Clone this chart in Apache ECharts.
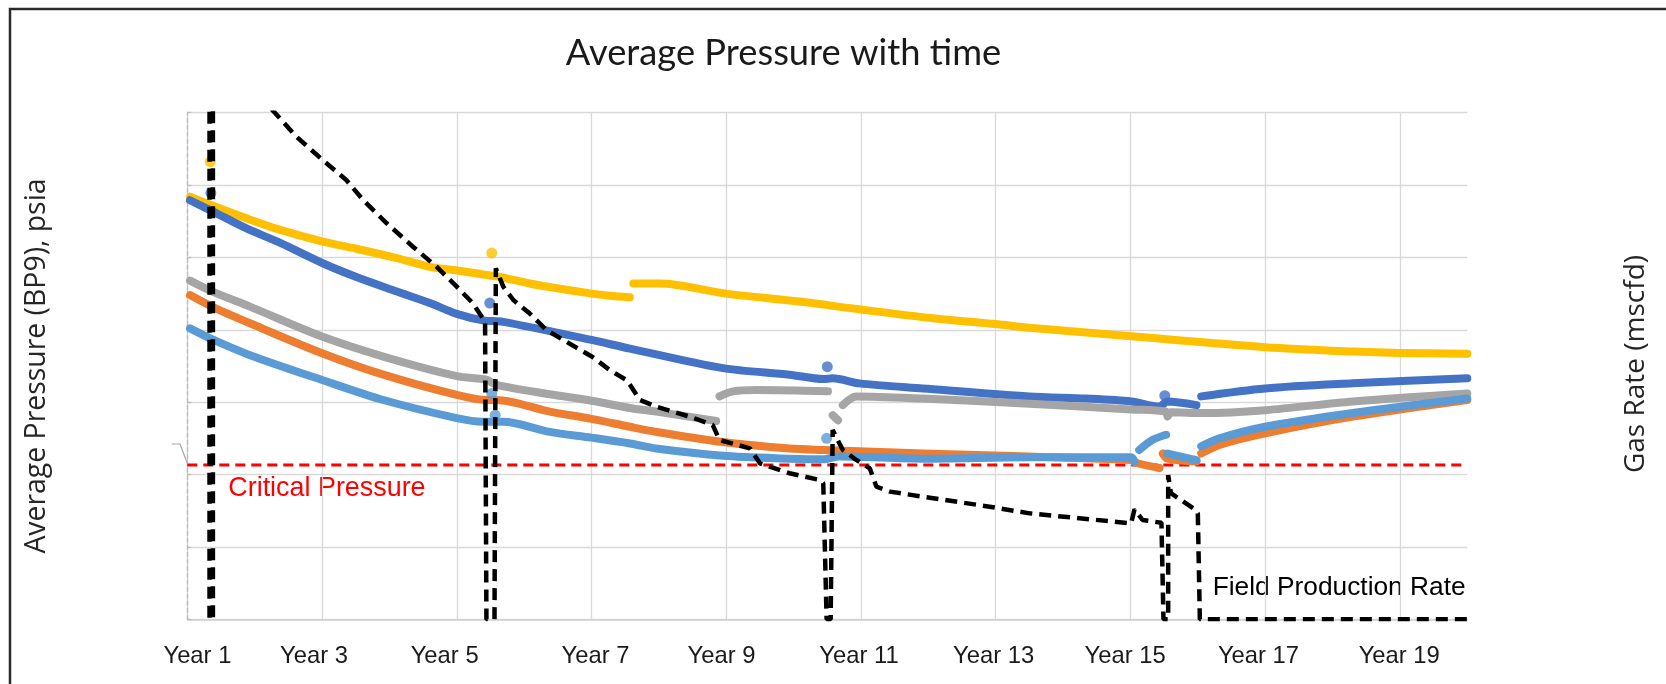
<!DOCTYPE html>
<html>
<head>
<meta charset="utf-8">
<script src="https://cdn.jsdelivr.net/npm/echarts@6/dist/echarts.min.js"></script>
<style>
html,body{margin:0;padding:0;background:#fff;}
#c{width:1666px;height:684px;}
</style>
</head>
<body>
<div id="c"></div>
<script>
// ---------------- DATA (t = years after the Year 1 gridline) ----------------
const yearLabels = ['Year 1','Year 3','Year 5','Year 7','Year 9','Year 11','Year 13','Year 15','Year 17','Year 19'];
const yearLabelPos = [0.15, 1.88, 3.82, 6.06, 7.93, 9.97, 11.97, 13.92, 15.90, 17.99];

const criticalPressure = 1066;

const yellowP = [[0.04,2920],[0.39,2855],[0.88,2770],[1.38,2690],[2.01,2610],[2.51,2560],[3.11,2495],[3.60,2435],[4.01,2410],[4.42,2380],[4.64,2365],[5.08,2320],[5.58,2280],[6.01,2250],[6.27,2235],[6.57,2225],[6.60,'-'],[6.62,2320],[7.01,2320],[8.00,2250],[9.09,2195],[10.00,2140],[11.07,2080],[12.00,2040],[12.50,2015],[14.01,1955],[16.00,1880],[17.30,1850],[18.00,1840],[19.00,1835]];
const blueP = [[0.04,2895],[0.39,2815],[0.88,2700],[1.38,2600],[2.01,2460],[2.51,2365],[3.11,2265],[3.60,2185],[4.00,2110],[4.39,2065],[4.69,2055],[6.00,1930],[6.57,1870],[7.95,1735],[8.94,1690],[9.44,1660],[9.58,1665],[9.98,1630],[10.92,1595],[12.50,1540],[13.34,1525],[14.01,1505],[14.43,1470],[14.55,1505],[14.98,1480],[15.01,'-'],[15.05,1540],[16.00,1595],[17.30,1630],[19.00,1665]];
const grayP = [[0.04,2340],[0.39,2260],[0.93,2160],[1.99,1955],[2.91,1815],[4.00,1680],[4.44,1655],[4.59,1620],[5.38,1555],[6.00,1510],[6.57,1460],[6.96,1435],[7.85,1370],[7.87,'-'],[7.90,1540],[8.10,1575],[8.45,1585],[9.51,1575],[9.54,'-'],[9.58,1410],[9.66,1375],[9.70,'-'],[9.73,1480],[9.93,1540],[10.92,1525],[12.50,1490],[14.01,1450],[14.53,1435],[14.55,1400],[14.60,1430],[15.07,1425],[16.00,1445],[17.30,1505],[19.00,1560]];
const orangeP = [[0.04,2240],[0.39,2155],[0.93,2045],[1.99,1840],[2.91,1690],[4.00,1550],[4.44,1515],[4.59,1515],[5.38,1435],[6.00,1385],[6.57,1330],[6.96,1295],[7.95,1225],[8.94,1180],[9.44,1170],[10.92,1145],[12.50,1125],[14.01,1100],[14.09,1080],[14.43,1045],[14.46,'-'],[14.48,1145],[14.55,1110],[14.98,1090],[15.01,'-'],[15.05,1145],[15.32,1205],[16.00,1285],[17.30,1400],[19.00,1515]];
const lightBlueP = [[0.04,2010],[0.39,1930],[0.93,1825],[1.99,1655],[2.91,1515],[4.00,1390],[4.39,1365],[4.69,1365],[5.38,1295],[6.00,1255],[6.57,1215],[6.96,1180],[7.95,1130],[8.94,1110],[9.44,1105],[9.68,1125],[10.92,1110],[12.50,1120],[14.01,1120],[14.06,1090],[14.10,'-'],[14.13,1170],[14.33,1240],[14.53,1275],[14.54,'-'],[14.55,1145],[14.98,1100],[15.01,'-'],[15.05,1195],[15.32,1250],[16.00,1330],[17.30,1425],[19.00,1525]];

const yellowDots = [[0.34,3160],[4.52,2530]];
const blueDots = [[0.35,2945],[4.49,2185],[9.50,1745],[14.51,1545]];
const lightBlueDots = [[4.52,1560],[4.57,1410],[9.49,1250]];

const fieldRate = [[0.33,60000],[0.33,0],[0.38,0],[0.38,60000],[0.93,36900],[1.30,35000],[1.62,33340],[2.01,31730],[2.36,30350],[2.61,28970],[2.96,27360],[3.35,25740],[3.70,24360],[4.00,22980],[4.24,21830],[4.42,20560],[4.44,0],[4.56,0],[4.58,24250],[4.69,22980],[4.84,22060],[5.08,21140],[5.33,19990],[5.58,19300],[6.01,18140],[6.27,17220],[6.52,16530],[6.59,16070],[6.72,15150],[6.96,14690],[7.46,14000],[7.80,13420],[7.90,12390],[8.35,11810],[8.50,10780],[8.94,10090],[9.39,9620],[9.44,9400],[9.49,0],[9.55,0],[9.58,13080],[9.73,11700],[9.93,11010],[10.13,10430],[10.23,9160],[10.43,8820],[10.92,8470],[11.91,7780],[12.50,7320],[14.01,6630],[14.06,7600],[14.18,6860],[14.46,6670],[14.49,0],[14.56,0],[14.56,9970],[14.60,8710],[14.93,7670],[15.00,7320],[15.03,0],[19.00,0]];

// ---------------- STYLE ----------------
const C = {yellow:'#FFC000', blue:'#4472C4', gray:'#A5A5A5', orange:'#ED7D31', lightBlue:'#5B9BD5'};

function fit(text, family, target) {
  const ctx = document.createElement('canvas').getContext('2d');
  ctx.font = '100px ' + family;
  return +(100 * target / ctx.measureText(text).width).toFixed(1);
}
const ARIAL = '"Liberation Sans", Arial, sans-serif';
const SANS = '"Open Sans", sans-serif';
const TITLEF = 'Lato, sans-serif';
const titleSize = fit('Average Pressure with time', TITLEF, 435);
const leftNameSize = fit('Average Pressure (BP9), psia', SANS, 375);
const rightNameSize = fit('Gas Rate (mscfd)', SANS, 218);
const yearSize = fit('Year 1', ARIAL, 68);
const critSize = fit('Critical Pressure', ARIAL, 197);
const fieldSize = fit('Field Production Rate', ARIAL, 253);

function pLine(name, data, color) {
  return {name, type:'line', data, xAxisIndex:0, yAxisIndex:0, showSymbol:false, symbol:'none',
    smooth:0.3, connectNulls:false,
    lineStyle:{color, width:8, cap:'round', join:'round'}, z:3};
}
function pDots(name, data, color) {
  return {name, type:'scatter', data, xAxisIndex:0, yAxisIndex:0, symbolSize:11, itemStyle:{color}, z:3};
}

const chart = echarts.init(document.getElementById('c'), null, {renderer:'canvas'});
chart.setOption({
  animation:false,
  backgroundColor:'#ffffff',
  grid:{left:187.3, top:112.7, width:1280, height:506.6, containLabel:false, outerBoundsMode:'none'},
  xAxis:[
    {type:'value', min:0, max:19, interval:2,
     axisLine:{show:true, onZero:false, lineStyle:{color:'#cfcfcf', width:1.5}},
     axisTick:{show:false}, axisLabel:{show:false},
     splitLine:{show:true, showMinLine:false, showMaxLine:false, lineStyle:{color:'#d9d9d9', width:1.3}}},
    {type:'value', min:0, max:19, position:'bottom',
     axisLine:{show:false}, axisTick:{show:false}, splitLine:{show:false},
     axisLabel:{show:true, customValues:yearLabelPos, margin:25, color:'#1a1a1a',
       fontFamily:ARIAL, fontSize:yearSize,
       formatter:function(v){ const i = yearLabelPos.findIndex(p => Math.abs(p - v) < 1e-6); return i >= 0 ? yearLabels[i] : ''; }}}
  ],
  yAxis:[
    {type:'value', min:0, max:3500, interval:500,
     axisLine:{show:true, onZero:false, lineStyle:{color:'#d3d3d3', width:1.4}}, axisTick:{show:false}, axisLabel:{show:false},
     splitLine:{show:true, lineStyle:{color:'#d9d9d9', width:1.3}}},
    {type:'value', min:0, max:35000, interval:5000, position:'right',
     axisLine:{show:true, lineStyle:{color:'#bdbdbd', width:1.3, type:[4,3]}},
     axisTick:{show:true, inside:false, length:4, lineStyle:{color:'#bdbdbd', width:1.3}},
     axisLabel:{show:false}, splitLine:{show:false}}
  ],
  series:[
    {name:'Critical Pressure', type:'line', xAxisIndex:0, yAxisIndex:0, symbol:'none',
     data:[[0,criticalPressure],[19,criticalPressure]],
     lineStyle:{color:'#ff0000', width:3, type:[10,6]}, z:2},
    pLine('P1', yellowP, C.yellow),
    pLine('P2', blueP, C.blue),
    pLine('P3', grayP, C.gray),
    pLine('P4', orangeP, C.orange),
    pLine('P5', lightBlueP, C.lightBlue),
    pDots('P1 dots', yellowDots, C.yellow),
    pDots('P2 dots', blueDots, C.blue),
    pDots('P5 dots', lightBlueDots, C.lightBlue),
    {name:'Field Production Rate', type:'line', xAxisIndex:0, yAxisIndex:1, symbol:'none', showSymbol:false,
     data:fieldRate, clip:true, lineStyle:{color:'#000000', width:4.5, type:[12,7]}, z:5}
  ],
  graphic:[
    {type:'rect', silent:true, shape:{x:10, y:9, width:1700, height:700},
     style:{fill:'none', stroke:'#2b2b2b', lineWidth:2.5}},
    {type:'polyline', silent:true, shape:{points:[[171.7,444],[180,444],[187.3,463.3]]},
     style:{fill:'none', stroke:'#a6a6a6', lineWidth:1.2}},
    {type:'text', silent:true, x:783.5, y:53,
     style:{text:'Average Pressure with time', fontFamily:TITLEF, fontSize:titleSize, fill:'#1a1a1a', align:'center', verticalAlign:'middle'}},
    {type:'text', silent:true, x:37, y:366, rotation:Math.PI/2,
     style:{text:'Average Pressure (BP9), psia', fontFamily:SANS, fontSize:leftNameSize, fill:'#262626', align:'center', verticalAlign:'middle'}},
    {type:'text', silent:true, x:1636, y:364, rotation:Math.PI/2,
     style:{text:'Gas Rate (mscfd)', fontFamily:SANS, fontSize:rightNameSize, fill:'#262626', align:'center', verticalAlign:'middle'}},
    {type:'text', silent:true, x:228.3, y:489,
     style:{text:'Critical Pressure', fontFamily:ARIAL, fontSize:critSize, fill:'#ff0000', align:'left', verticalAlign:'middle'}},
    {type:'text', silent:true, x:1212.7, y:588,
     style:{text:'Field Production Rate', fontFamily:ARIAL, fontSize:fieldSize, fill:'#000000', align:'left', verticalAlign:'middle'}}
  ]
});
</script>
</body>
</html>
